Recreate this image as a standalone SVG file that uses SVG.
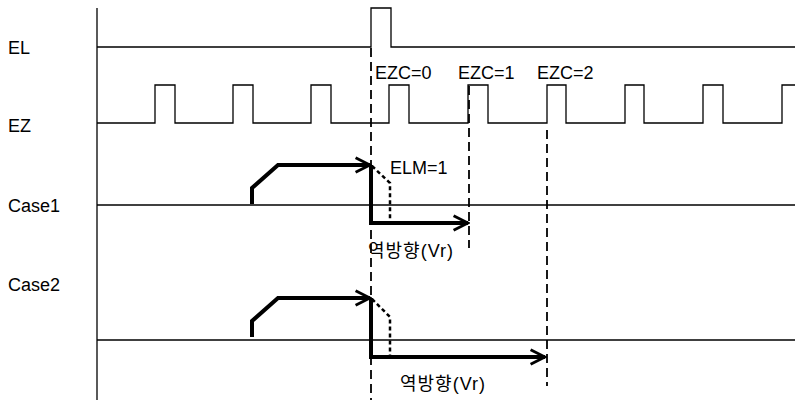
<svg xmlns="http://www.w3.org/2000/svg" width="795" height="400" viewBox="0 0 795 400">
<defs>
<style>
.sig{fill:none;stroke:#000;stroke-width:1.3}
.dash{fill:none;stroke:#000;stroke-width:1.8;stroke-dasharray:9,5}
.thick{fill:none;stroke:#000;stroke-width:4;stroke-linejoin:miter}
.dot{fill:none;stroke:#000;stroke-width:2.5;stroke-dasharray:4,3}
.lbl{font-family:"Liberation Sans","Noto Sans CJK KR",sans-serif;font-size:18px;fill:#000}
.kr{letter-spacing:1px}
</style>
<marker id="ah" viewBox="0 0 10 10" refX="9" refY="5" markerWidth="4.5" markerHeight="4.5" markerUnits="strokeWidth" orient="auto">
<path d="M1,1 L9,5 L1,9" fill="none" stroke="#000" stroke-width="1.6"/>
</marker>
</defs>
<rect width="795" height="400" fill="#fff"/>
<g id="axis"><line class="sig" x1="97" y1="8" x2="97" y2="400"/></g>
<g id="labels">
<text class="lbl" x="8" y="54">EL</text>
<text class="lbl" x="8" y="132">EZ</text>
<text class="lbl" x="8" y="212">Case1</text>
<text class="lbl" x="8" y="291">Case2</text>
</g>
<g id="EL"><path class="sig" d="M97,47 H371 V8 H391 V47 H795"/></g>
<g id="EZ"><path class="sig" d="M97,123 H155 V85 H175 V123 H233 V85 H253 V123 H311 V85 H331 V123 H389 V85 H409 V123 H468 V85 H488 V123 H547 V85 H566 V123 H625 V85 H644 V123 H703 V85 H723 V123 H782 V85 H795"/></g>
<g id="ezc-labels">
<text class="lbl" x="375" y="79">EZC=0</text>
<text class="lbl" x="458" y="79">EZC=1</text>
<text class="lbl" x="537" y="79">EZC=2</text>
</g>
<g id="baselines">
<line class="sig" x1="97" y1="205" x2="795" y2="205"/>
<line class="sig" x1="97" y1="340" x2="795" y2="340"/>
</g>
<g id="connectors">
<line class="dash" x1="371" y1="48" x2="371" y2="400"/>
<line class="dash" x1="469" y1="86" x2="469" y2="248"/>
<line class="dash" x1="547" y1="130" x2="547" y2="386"/>
</g>
<g id="case1">
<path class="thick" d="M252,204 V188 L278,165 H370" marker-end="url(#ah)"/>
<path class="thick" d="M371,165 V223 H468" marker-end="url(#ah)"/>
<path class="dot" d="M372,166 L390,183 V222"/>
<text class="lbl" x="390" y="174">ELM=1</text>
<text class="lbl kr" x="368" y="257">역방향(Vr)</text>
</g>
<g id="case2">
<path class="thick" d="M252,337 V321 L278,298 H370" marker-end="url(#ah)"/>
<path class="thick" d="M371,298 V357 H545" marker-end="url(#ah)"/>
<path class="dot" d="M372,299 L390,317 V356"/>
<text class="lbl kr" x="400" y="390">역방향(Vr)</text>
</g>
</svg>
